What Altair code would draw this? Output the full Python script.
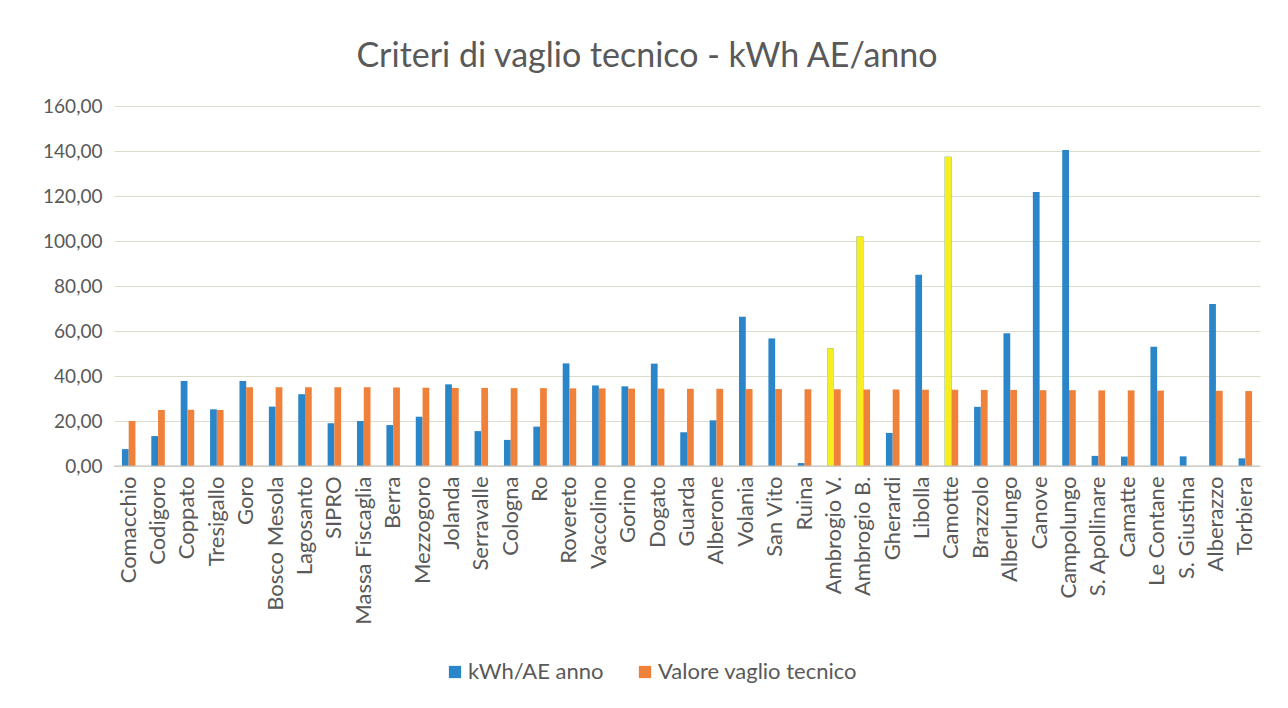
import altair as alt
import pandas as pd

categories = ["Comacchio", "Codigoro", "Coppato", "Tresigallo", "Goro", "Bosco Mesola",
              "Lagosanto", "SIPRO", "Massa Fiscaglia", "Berra", "Mezzogoro", "Jolanda",
              "Serravalle", "Cologna", "Ro", "Rovereto", "Vaccolino", "Gorino", "Dogato",
              "Guarda", "Alberone", "Volania", "San Vito", "Ruina", "Ambrogio V.",
              "Ambrogio B.", "Gherardi", "Libolla", "Camotte", "Brazzolo", "Alberlungo",
              "Canove", "Campolungo", "S. Apollinare", "Camatte", "Le Contane",
              "S. Giustina", "Alberazzo", "Torbiera"]

kwh = [7.5, 13.3, 37.8, 25.2, 37.8, 26.4, 31.9, 19.0, 20.0, 18.2, 21.9, 36.3,
       15.5, 11.6, 17.5, 45.6, 35.8, 35.4, 45.5, 15.0, 20.3, 66.3, 56.7, 1.3, 52.3,
       102.0, 14.7, 85.0, 137.5, 26.3, 59.0, 121.8, 140.5, 4.5, 4.2, 53.0,
       4.3, 72.0, 3.4]

vaglio = [20.0, 24.9, 25.0, 24.9, 35.0, 35.0, 35.0, 35.0, 35.0, 34.9, 34.8, 34.7,
          34.7, 34.6, 34.6, 34.5, 34.5, 34.4, 34.4, 34.3, 34.3, 34.2, 34.2, 34.1, 34.1,
          34.0, 34.0, 33.9, 33.9, 33.8, 33.8, 33.7, 33.7, 33.6, 33.6, 33.5,
          None, 33.4, 33.3]

highlighted = ["Ambrogio V.", "Ambrogio B.", "Camotte"]

series_names = ["kWh/AE anno", "Valore vaglio tecnico"]
series_colors = ["#2a86c8", "#f0813a"]
highlight_color = "#f7ee22"

rows = []
for c, a, b in zip(categories, kwh, vaglio):
    rows.append({"cat": c, "serie": series_names[0], "val": a, "hl": c in highlighted})
    if b is not None:
        rows.append({"cat": c, "serie": series_names[1], "val": b, "hl": False})
df = pd.DataFrame(rows)

font = "Lato"
grey = "#595959"

x_enc = alt.X("cat:N", sort=categories, title=None,
              scale=alt.Scale(paddingInner=0.54, paddingOuter=0.27),
              axis=alt.Axis(labelAngle=-90, labelFontSize=22, labelColor=grey,
                            labelFont=font, ticks=False, domain=False, labelPadding=10,
                            labelLimit=300))
y_enc = alt.Y("val:Q", title=None,
              scale=alt.Scale(domain=[0, 160]),
              axis=alt.Axis(values=[0, 20, 40, 60, 80, 100, 120, 140, 160],
                            labelExpr="replace(format(datum.value, '.2f'), '.', ',')",
                            labelFontSize=19, labelColor=grey, labelFont=font,
                            ticks=False, domain=False, labelPadding=12,
                            gridColor="#dedbcc", gridWidth=1))
xoff = alt.XOffset("serie:N", sort=series_names,
                   scale=alt.Scale(domain=series_names, paddingInner=0, paddingOuter=0))

bars = alt.Chart(df).mark_bar().encode(
    x=x_enc, y=y_enc, xOffset=xoff,
    color=alt.Color("serie:N", sort=series_names,
                    scale=alt.Scale(domain=series_names, range=series_colors),
                    legend=alt.Legend(orient="none", legendX=330, legendY=555,
                                      direction="horizontal", title=None,
                                      symbolType="square", symbolSize=150,
                                      symbolStrokeWidth=0, labelLimit=400,
                                      labelFontSize=22, labelColor=grey, labelFont=font,
                                      columnPadding=30, labelOffset=2)),
)

hl_bars = alt.Chart(df).transform_filter("datum.hl").mark_bar(color=highlight_color).encode(
    x=x_enc, y=y_enc, xOffset=xoff,
)

baseline = alt.Chart(pd.DataFrame({"v": [0]})).mark_rule(color="#bfbfbf", strokeWidth=1).encode(y="v:Q")

chart = alt.layer(bars, hl_bars, baseline).properties(
    width=1146, height=360,
    title=alt.TitleParams("Criteri di vaglio tecnico - kWh AE/anno", fontSize=34,
                          font=font, fontWeight="normal", color=grey, offset=23, dx=-40),
    padding={"left": 34, "top": 32, "right": 10, "bottom": 5},
).configure(background="white", view=alt.ViewConfig(stroke=None))

chart.save("out.html", embed_options={"renderer": "svg", "actions": False})
